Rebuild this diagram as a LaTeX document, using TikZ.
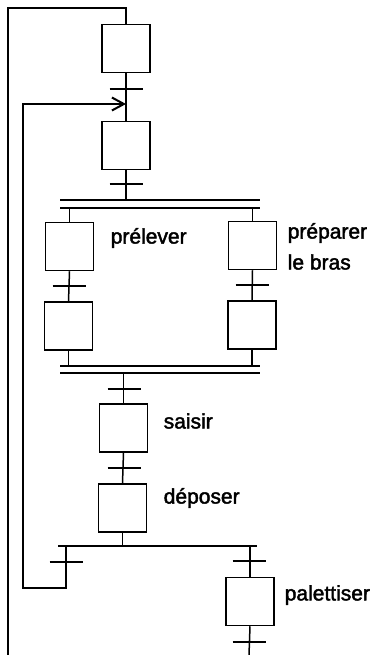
\documentclass[tikz,border=0pt]{standalone}
\usepackage{fontspec}
\setmainfont{Liberation Sans}
\newfontfamily\lblfont[FakeBold=2]{Liberation Sans}
\usetikzlibrary{arrows.meta}
\begin{document}
\begin{tikzpicture}[x=1pt,y=-1pt,
  line width=1.5pt,
  stepbox/.style={draw, minimum width=48pt, minimum height=48pt, inner sep=0pt},
  lbl/.style={anchor=west, inner sep=0pt, font=\lblfont\fontsize{21}{24}\selectfont, align=left},
  trans/.style={line width=1.5pt}]
\useasboundingbox (0,0) rectangle (375,655);
% steps
\node[stepbox] (s1) at (126,48.5) {};
\node[stepbox] (s2) at (126,145.5) {};
\node[stepbox] (l1) at (69.5,246.5) {};
\node[stepbox] (l2) at (68.5,326) {};
\node[stepbox] (r1) at (252.5,245.5) {};
\node[stepbox] (r2) at (252,325) {};
\node[stepbox] (sa) at (123.5,428) {};
\node[stepbox] (de) at (122.5,508) {};
\node[stepbox] (pa) at (250,601.5) {};
% labels
\node[lbl] (tpre) at (110,238) {prélever};
\node[lbl] (tprep) at (287,233) {préparer};
\node[lbl] (tbras) at (287,262) {le bras};
\node[lbl] (tsai) at (163,421) {saisir};
\node[lbl] (tdep) at (163,498) {déposer};
\node[lbl] (tpal) at (284,595) {palettiser};
% transitions
\coordinate (t1) at (126,89);
\coordinate (t2) at (126,184);
\coordinate (tl) at (69,286);
\coordinate (tr) at (252,285);
\coordinate (t3) at (124,389);
\coordinate (t4) at (124,468);
\coordinate (tol) at (66,562);
\coordinate (tor) at (249,561);
\coordinate (t5) at (249,642);
\foreach \t in {t1,t2,tl,tr,t3,t4,tol,tor,t5}
  \draw[trans] ([xshift=-16.5pt]\t) -- ([xshift=16.5pt]\t);
% double bars
\coordinate (da1) at (60,200); \coordinate (db1) at (260,200);
\coordinate (da2) at (60,208); \coordinate (db2) at (260,208);
\coordinate (ea1) at (60,366); \coordinate (eb1) at (260,366);
\coordinate (ea2) at (60,373); \coordinate (eb2) at (260,373);
\draw (da1) -- (db1); \draw (da2) -- (db2);
\draw (ea1) -- (eb1); \draw (ea2) -- (eb2);
% OR bar
\coordinate (oa) at (58,546); \coordinate (ob) at (257,546);
\draw (oa) -- (ob);
% links
\draw (s1.south) -- (s2.north);
\draw (s2.south) -- (s2.south |- da1);
\draw (l1.north) -- (l1.north |- da2);
\draw (r1.north) -- (r1.north |- da2);
\draw (l1.south) -- (l2.north);
\draw (r1.south) -- (r2.north);
\draw (l2.south) -- (l2.south |- ea1);
\draw (r2.south) -- (r2.south |- ea1);
\draw (sa.north) -- (sa.north |- ea2);
\draw (sa.south) -- (de.north);
\draw (de.south) -- (de.south |- oa);
\draw (pa.north) -- (pa.north |- oa);
\coordinate (pend) at (249,655);
\draw (pa.south) -- (pend);
% inner loop
\coordinate (il0) at (66,546);
\coordinate (il1) at (66,588);
\coordinate (il2) at (23,588);
\coordinate (il3) at (23,104);
\coordinate (il4) at (126,104);
\draw[-{Straight Barb[length=12pt,width=13pt,line width=2pt]}] (il0) -- (il1) -- (il2) -- (il3) -- (il4);
% outer loop
\coordinate (ol1) at (126,8);
\coordinate (ol2) at (8,8);
\coordinate (ol3) at (8,655);
\draw (s1.north) -- (ol1) -- (ol2) -- (ol3);
\end{tikzpicture}
\end{document}
